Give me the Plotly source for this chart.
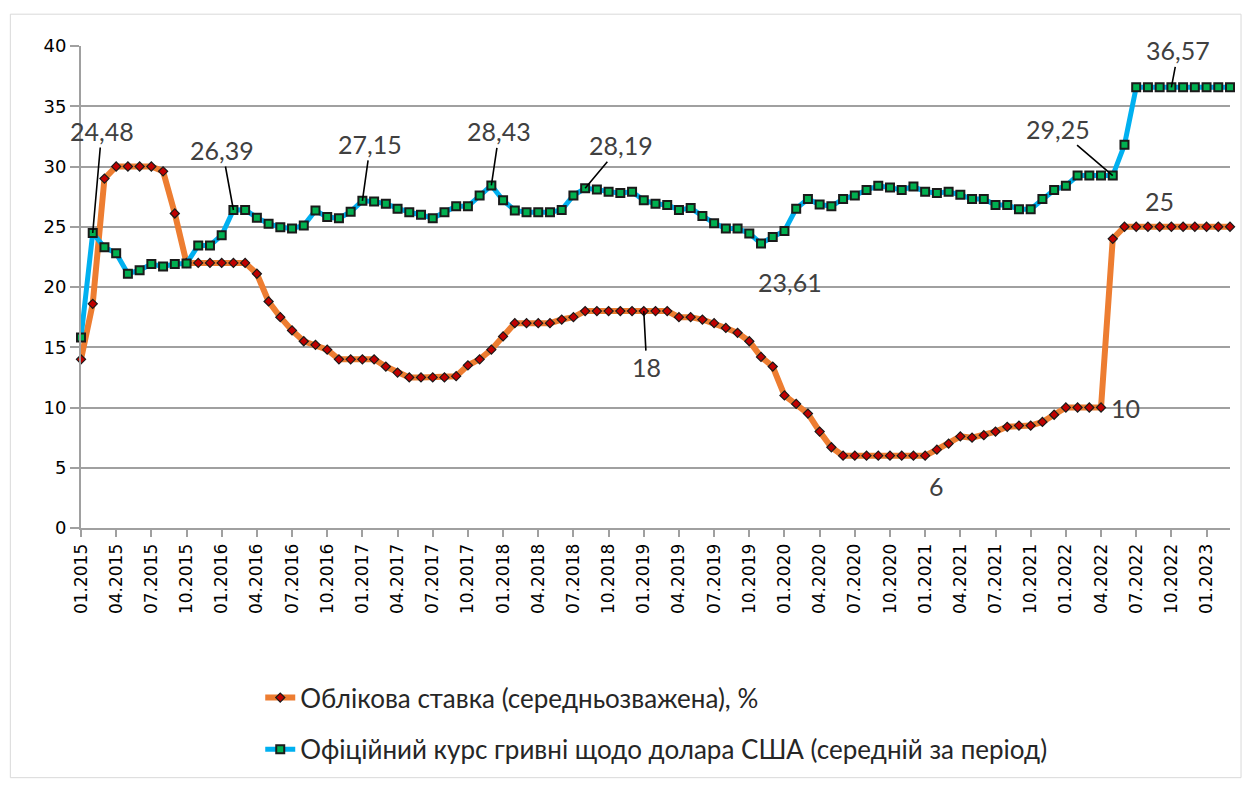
import plotly.graph_objects as go

# ---- data ----
months = [f"{m:02d}.{y}" for y in range(2015, 2024) for m in range(1, 13)][:99]

tick_labels = ["01.2015", "04.2015", "07.2015", "10.2015", "01.2016", "04.2016", "07.2016", "10.2016",
               "01.2017", "04.2017", "07.2017", "10.2017", "01.2018", "04.2018", "07.2018", "10.2018",
               "01.2019", "04.2019", "07.2019", "10.2019", "01.2020", "04.2020", "07.2020", "10.2020",
               "01.2021", "04.2021", "07.2021", "10.2021", "01.2022", "04.2022", "07.2022", "10.2022",
               "01.2023"]

discount_rate = [14.0, 18.6, 29.0, 30, 30, 30, 30, 29.6, 26.1, 22,
                 22, 22, 22, 22, 22, 21.1, 18.8, 17.5, 16.4, 15.5,
                 15.2, 14.8, 14, 14, 14, 14, 13.4, 12.9, 12.5, 12.5,
                 12.5, 12.5, 12.6, 13.5, 14.0, 14.8, 15.9, 17, 17, 17,
                 17, 17.3, 17.5, 18, 18, 18, 18, 18, 18, 18,
                 18, 17.5, 17.5, 17.3, 17.0, 16.6, 16.2, 15.5, 14.2, 13.4,
                 11.0, 10.3, 9.5, 8.0, 6.7, 6, 6, 6, 6, 6,
                 6, 6, 6, 6.5, 7.0, 7.6, 7.5, 7.7, 8.0, 8.4,
                 8.5, 8.5, 8.8, 9.4, 10, 10, 10, 10, 24, 25,
                 25, 25, 25, 25, 25, 25, 25, 25, 25]

usd_rate = [15.8, 24.48, 23.3, 22.8, 21.1, 21.4, 21.9, 21.7, 21.9, 21.95,
            23.45, 23.45, 24.3, 26.39, 26.4, 25.75, 25.25, 24.95, 24.85, 25.1,
            26.35, 25.8, 25.7, 26.25, 27.15, 27.1, 26.9, 26.5, 26.2, 26.0,
            25.7, 26.2, 26.7, 26.7, 27.6, 28.43, 27.2, 26.35, 26.2, 26.2,
            26.2, 26.4, 27.6, 28.19, 28.1, 27.9, 27.8, 27.9, 27.2, 26.9,
            26.8, 26.4, 26.55, 25.9, 25.3, 24.85, 24.85, 24.45, 23.61, 24.15,
            24.65, 26.5, 27.3, 26.85, 26.7, 27.3, 27.6, 28.05, 28.4, 28.25,
            28.05, 28.35, 27.9, 27.8, 27.9, 27.65, 27.3, 27.3, 26.8, 26.8,
            26.45, 26.45, 27.3, 28.05, 28.4, 29.25, 29.25, 29.25, 29.25, 31.8,
            36.57, 36.57, 36.57, 36.57, 36.57, 36.57, 36.57, 36.57, 36.57]

series_names = ["Облікова ставка (середньозважена), %",
                "Офіційний курс гривні щодо долара США (середній за період)"]

# labels: (point index, text)
labels_rate = [(48, "18"), (72, "6"), (87, "10"), (92, "25")]
labels_usd = [(1, "24,48"), (13, "26,39"), (24, "27,15"), (35, "28,43"), (43, "28,19"),
              (58, "23,61"), (88, "29,25"), (93, "36,57")]

# label offsets in pixels (dx, dy, leader line)
offs_rate = [(3, 56, True), (11, 30, False), (24, 0, False), (0, -26, False)]
offs_usd = [(9, -102, True), (-11, -60, True), (8, -57, True), (8, -54, True), (36, -43, True),
            (29, 38, False), (-55, -47, True), (7, -37, True)]

fig = go.Figure()
fig.add_trace(go.Scatter(
    x=months, y=discount_rate, name=series_names[0], mode="lines+markers",
    line=dict(color="#ED7D31", width=6),
    marker=dict(symbol="diamond", size=7, color="#C00000", line=dict(color="#1a1a1a", width=1.2)),
    cliponaxis=False, legendgroup="a"))
fig.add_trace(go.Scatter(
    x=months, y=usd_rate, name=series_names[1], mode="lines+markers",
    line=dict(color="#00B0F0", width=5),
    marker=dict(symbol="square", size=8, color="#00B050", line=dict(color="#1a1a1a", width=2)),
    cliponaxis=False, legendgroup="b"))

ann_font = dict(family="Lato", size=25, color="#404040")
annotations = []


def add_labels(values, labels, offs):
    for (idx, txt), (dx, dy, arrow) in zip(labels, offs):
        yv = values[idx]
        if arrow:
            annotations.append(dict(x=idx, y=yv, xref="x", yref="y", text=txt, showarrow=True,
                                    arrowhead=0, arrowwidth=1.6, arrowcolor="#000000",
                                    ax=dx, ay=dy, font=ann_font))
        else:
            annotations.append(dict(x=idx, y=yv, xref="x", yref="y", text=txt, showarrow=False,
                                    xshift=dx, yshift=-dy, font=ann_font))


add_labels(discount_rate, labels_rate, offs_rate)
add_labels(usd_rate, labels_usd, offs_usd)

tickvals = [months[i] for i in range(0, len(months), 3)]

fig.update_layout(
    width=1234, height=771,
    margin=dict(l=73, r=12, t=38, b=251, autoexpand=False),
    paper_bgcolor="white", plot_bgcolor="white",
    showlegend=True,
    legend=dict(x=0.156, y=0.136, xref="paper", yref="container", xanchor="left", yanchor="top",
                font=dict(family="Lato", size=26, color="#262626"),
                tracegroupgap=15, bgcolor="rgba(0,0,0,0)"),
    annotations=annotations,
    shapes=[dict(type="rect", xref="paper", yref="paper", x0=-0.0615, x1=1.0096, y0=-0.518, y1=1.066,
                 line=dict(color="#d9d9d9", width=1), layer="below")],
)
fig.update_xaxes(type="category", range=[0, len(months) - 1], tickmode="array",
                 tickvals=tickvals, ticktext=tick_labels, tickangle=-90,
                 tickfont=dict(family="DejaVu Sans", size=17, color="#000000"),
                 showgrid=False, showline=True, linecolor="#a0a0a0", linewidth=2,
                 ticks="outside", ticklen=7, tickwidth=1.5, tickcolor="#a0a0a0",
                 zeroline=False)
fig.update_yaxes(range=[0, 40], tickvals=[0, 5, 10, 15, 20, 25, 30, 35, 40],
                 tickfont=dict(family="DejaVu Sans", size=18, color="#000000"),
                 showgrid=True, gridcolor="#a0a0a0", gridwidth=2,
                 showline=True, linecolor="#a0a0a0", linewidth=2,
                 ticks="outside", ticklen=9, tickwidth=2, tickcolor="#a0a0a0",
                 zeroline=False, ticklabelstandoff=0)

fig.write_html("out.html")
